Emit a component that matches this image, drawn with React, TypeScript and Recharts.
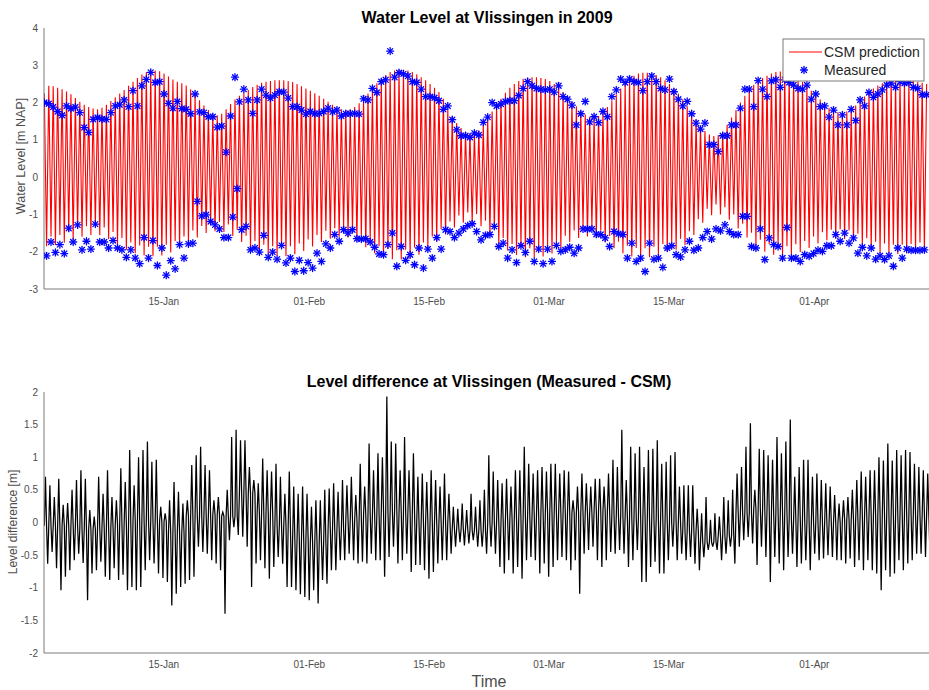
import React from 'react';
import { ComposedChart, Line, Scatter, XAxis, YAxis } from 'recharts';

// ---- time base (days after 01-Jan-2009 00:00) ----
const FIRST_HIGH_WATER_DAY = 0.04;
const TIDE_INTERVAL_DAYS = 0.518;
const X_DOMAIN: [number, number] = [0, 103.4];

// ---- tick labels ----
const dateTicks = [14, 31, 45, 59, 73, 90];
const dateTickLabels = ['15-Jan', '01-Feb', '15-Feb', '01-Mar', '15-Mar', '01-Apr'];
const levelTicks = [-3, -2, -1, 0, 1, 2, 3, 4];
const diffTicks = [-2, -1.5, -1, -0.5, 0, 0.5, 1, 1.5, 2];

// ---- CSM prediction: high and low waters per tide [m NAP] ----
const predHW = [
  2.25, 2.45, 2.44, 2.40, 2.36, 2.30, 2.22, 2.12, 2.02, 1.94,
  1.88, 1.84, 1.82, 1.86, 1.94, 2.04, 2.14, 2.24, 2.34, 2.45,
  2.56, 2.66, 2.75, 2.82, 2.86, 2.86, 2.84, 2.78, 2.70, 2.62,
  2.56, 2.52, 2.46, 2.36, 2.22, 2.06, 1.92, 1.80, 1.70, 1.66,
  1.70, 1.82, 1.96, 2.08, 2.18, 2.26, 2.34, 2.42, 2.48, 2.53,
  2.56, 2.58, 2.60, 2.60, 2.60, 2.58, 2.55, 2.50, 2.44, 2.38,
  2.32, 2.25, 2.18, 2.10, 2.02, 1.94, 1.87, 1.82, 1.80, 1.82,
  1.88, 1.98, 2.10, 2.24, 2.38, 2.52, 2.64, 2.74, 2.82, 2.86,
  2.88, 2.88, 2.86, 2.82, 2.76, 2.68, 2.60, 2.50, 2.40, 2.28,
  2.10, 1.82, 1.62, 1.45, 1.32, 1.22, 1.17, 1.18, 1.26, 1.40,
  1.58, 1.76, 1.94, 2.10, 2.26, 2.40, 2.50, 2.58, 2.64, 2.67,
  2.68, 2.68, 2.66, 2.63, 2.58, 2.50, 2.40, 2.28, 2.15, 2.02,
  1.90, 1.78, 1.68, 1.62, 1.60, 1.64, 1.74, 1.88, 2.04, 2.22,
  2.38, 2.52, 2.64, 2.72, 2.78, 2.80, 2.80, 2.78, 2.74, 2.68,
  2.60, 2.50, 2.38, 2.24, 2.08, 1.90, 1.72, 1.54, 1.38, 1.24,
  1.14, 1.10, 1.12, 1.22, 1.40, 1.60, 1.80, 2.00, 2.18, 2.34,
  2.48, 2.58, 2.66, 2.72, 2.78, 2.82, 2.83, 2.82, 2.78, 2.72,
  2.64, 2.55, 2.44, 2.32, 2.20, 2.08, 1.96, 1.86, 1.79, 1.75,
  1.74, 1.76, 1.82, 1.92, 2.04, 2.16, 2.28, 2.38, 2.46, 2.52,
  2.56, 2.58, 2.60, 2.61, 2.61, 2.60, 2.58, 2.56, 2.53, 2.50,
];

const predLW = [
  -1.85, -1.59, -1.82, -1.55, -1.76, -1.47, -1.68, -1.39, -1.60, -1.32,
  -1.55, -1.30, -1.56, -1.35, -1.66, -1.47, -1.80, -1.63, -1.95, -1.75,
  -2.04, -1.83, -2.10, -1.87, -2.12, -1.87, -2.10, -1.81, -2.02, -1.71,
  -1.90, -1.59, -1.76, -1.43, -1.62, -1.31, -1.50, -1.22, -1.45, -1.20,
  -1.47, -1.27, -1.58, -1.41, -1.74, -1.57, -1.90, -1.71, -2.02, -1.81,
  -2.08, -1.85, -2.11, -1.87, -2.12, -1.85, -2.07, -1.78, -1.98, -1.67,
  -1.86, -1.55, -1.74, -1.44, -1.65, -1.37, -1.60, -1.35, -1.62, -1.41,
  -1.72, -1.55, -1.88, -1.71, -2.04, -1.85, -2.15, -1.93, -2.20, -1.96,
  -2.21, -1.95, -2.18, -1.89, -2.08, -1.75, -1.92, -1.59, -1.74, -1.39,
  -1.54, -1.19, -1.35, -1.03, -1.22, -0.95, -1.20, -0.99, -1.32, -1.17,
  -1.54, -1.41, -1.78, -1.63, -1.97, -1.79, -2.09, -1.88, -2.15, -1.91,
  -2.16, -1.90, -2.13, -1.85, -2.05, -1.73, -1.90, -1.57, -1.74, -1.43,
  -1.63, -1.35, -1.59, -1.35, -1.63, -1.43, -1.75, -1.58, -1.91, -1.73,
  -2.04, -1.84, -2.13, -1.90, -2.16, -1.91, -2.15, -1.87, -2.08, -1.79,
  -2.00, -1.75, -1.95, -1.65, -1.82, -1.45, -1.55, -1.13, -1.22, -0.85,
  -1.02, -0.73, -1.00, -0.81, -1.14, -1.00, -1.38, -1.25, -1.62, -1.49,
  -1.84, -1.68, -2.00, -1.80, -2.08, -1.85, -2.11, -1.85, -2.08, -1.80,
  -2.01, -1.71, -1.90, -1.59, -1.78, -1.48, -1.69, -1.41, -1.65, -1.40,
  -1.66, -1.43, -1.72, -1.52, -1.83, -1.64, -1.94, -1.73, -2.01, -1.78,
  -2.05, -1.81, -2.06, -1.81, -2.05, -1.79, -2.02, -1.75, -1.98,
];

// ---- Measured high and low waters [m NAP] ----
const measHW = [
  2.0, 1.97, 1.88, 1.76, 1.66, 1.91, 1.84, 1.88, 1.73, 1.33,
  1.2, 1.55, 1.6, 1.56, 1.55, 1.73, 1.91, 1.94, 2.07, 1.89,
  2.32, 1.91, 2.45, 2.62, 2.81, 2.54, 2.56, 2.23, 1.98, 1.85,
  2.03, 1.84, 1.82, 1.7, 2.23, 1.75, 1.73, 1.62, 1.62, 1.34,
  1.37, 0.67, 1.64, 2.68, 2.02, 2.36, 2.07, 1.71, 2.07, 2.36,
  2.2, 2.12, 2.2, 2.29, 2.28, 2.12, 1.89, 1.89, 1.8, 1.69,
  1.76, 1.7, 1.71, 1.76, 1.85, 1.75, 1.8, 1.64, 1.7, 1.7,
  1.71, 1.69, 2.1, 2.07, 2.38, 2.27, 2.56, 2.61, 3.38, 2.68,
  2.8, 2.77, 2.71, 2.56, 2.54, 2.36, 2.16, 2.16, 2.13, 2.05,
  1.82, 1.91, 1.54, 1.27, 1.11, 1.11, 1.07, 1.18, 1.13, 1.47,
  1.61, 2.0, 1.91, 1.96, 2.03, 2.05, 2.05, 2.19, 2.38, 2.56,
  2.45, 2.38, 2.36, 2.34, 2.36, 2.28, 2.45, 2.16, 2.09, 1.93,
  1.4, 1.7, 2.03, 1.48, 1.62, 1.46, 1.76, 1.62, 2.16, 2.34,
  2.63, 2.54, 2.63, 2.56, 2.54, 2.32, 2.56, 2.71, 2.56, 2.38,
  2.34, 2.63, 2.29, 2.09, 1.91, 2.03, 1.7, 1.45, 1.29, 1.45,
  0.87, 0.87, 0.69, 1.11, 1.11, 1.4, 1.4, 1.85, 2.36, 2.36,
  1.89, 2.59, 2.36, 2.16, 2.58, 2.61, 2.41, 2.61, 2.54, 2.47,
  2.38, 2.36, 2.47, 2.09, 2.23, 1.89, 1.91, 1.61, 1.8, 1.4,
  1.67, 1.4, 1.82, 1.52, 2.07, 1.91, 2.27, 2.14, 2.23, 2.34,
  2.47, 2.52, 2.41, 2.56, 2.52, 2.54, 2.41, 2.38, 2.21, 2.21,
];

const measLW = [
  -2.11, -1.74, -2.02, -1.81, -2.05, -1.37, -1.74, -1.28, -1.95, -1.72,
  -1.93, -1.26, -1.74, -1.74, -1.9, -1.7, -1.9, -1.95, -2.15, -1.95,
  -2.17, -2.32, -1.62, -2.17, -1.7, -2.37, -1.9, -2.63, -2.24, -2.46,
  -1.81, -2.17, -1.79, -1.77, -0.65, -1.04, -1.01, -1.19, -1.28, -1.39,
  -1.62, -1.62, -1.07, -0.31, -1.41, -1.32, -1.95, -1.9, -2.01, -1.56,
  -2.15, -2.01, -2.2, -1.83, -2.3, -2.17, -2.53, -2.23, -2.51, -2.29,
  -2.44, -2.04, -2.26, -1.79, -1.9, -1.54, -1.72, -1.41, -1.5, -1.41,
  -1.65, -1.66, -1.65, -1.74, -1.88, -2.06, -2.08, -1.81, -1.5, -2.39,
  -1.86, -2.23, -2.08, -2.35, -1.9, -2.44, -1.93, -2.17, -1.62, -1.93,
  -1.41, -1.46, -1.62, -1.5, -1.39, -1.3, -1.25, -1.46, -1.68, -1.56,
  -1.54, -1.32, -1.86, -1.77, -2.17, -1.95, -2.29, -1.84, -2.02, -1.72,
  -2.26, -1.93, -2.32, -1.93, -2.26, -1.83, -1.99, -1.95, -1.88, -2.04,
  -1.9, -1.39, -1.39, -1.39, -1.53, -1.54, -1.63, -1.86, -1.46, -1.52,
  -1.54, -2.17, -1.77, -2.26, -2.17, -2.53, -1.77, -2.2, -2.17, -2.42,
  -1.9, -1.84, -2.08, -2.14, -1.95, -1.72, -1.96, -1.9, -1.62, -1.46,
  -1.66, -1.39, -1.44, -1.28, -1.46, -1.54, -1.54, -1.05, -1.05, -1.86,
  -1.9, -1.39, -2.21, -1.63, -1.81, -1.86, -2.17, -1.35, -2.17, -2.17,
  -2.26, -2.08, -2.12, -2.05, -1.96, -1.99, -1.84, -1.84, -1.54, -1.72,
  -1.5, -1.77, -1.63, -2.04, -1.88, -2.11, -1.9, -2.2, -2.11, -2.21,
  -2.11, -2.39, -1.9, -2.17, -1.93, -1.96, -1.96, -1.96, -1.95,
];

// ---- Level difference (Measured - CSM) [m]: per-tide peaks, troughs, and local level ----
const diffUp = [
  0.7, 0.57, 0.39, 0.67, 0.27, 0.3, 0.5, 0.65, 0.8, 0.67,
  0.19, 0.09, 0.7, 0.44, 0.8, 0.39, 0.34, 0.83, 0.62, 1.11,
  0.57, 1.0, 1.11, 1.24, 0.93, 0.96, 0.24, 0.14, 0.34, 0.62,
  0.47, 0.29, 0.34, 0.88, 1.03, 1.16, 0.88, 0.8, 0.34, 0.39,
  0.16, 0.5, 1.31, 1.42, 1.26, 1.26, 0.85, 0.65, 0.6, 0.98,
  0.8, 0.78, 0.9, 0.7, 0.44, 0.78, 0.55, 0.44, 0.55, 0.44,
  0.24, 0.34,
  0.34, 0.5, 0.52, 0.6, 0.47, 0.65, 0.57, 0.7, 0.42,
  0.9, 0.55, 1.21, 0.8, 1.06, 1.0, 1.93, 1.24, 1.21, 0.8,
  1.31, 0.8, 1.06, 0.7, 0.75, 0.62, 0.8, 0.65, 0.55, 0.75,
  0.44, 0.24, 0.21, 0.29, 0.19, 0.44, 0.24, 0.34, 0.5, 1.03,
  0.78, 0.65, 0.6, 0.67, 0.55, 0.8, 0.8, 1.16, 0.9, 0.75,
  0.8, 0.85, 0.78, 0.9, 0.9, 0.75, 0.8, 0.78, 0.34, 0.55,
  0.75, 0.6, 0.55, 0.67, 0.67, 0.55, 0.75, 0.96, 0.85,
  1.42, 0.65, 1.16, 1.06, 1.16, 0.85, 1.11, 1.13, 1.26, 0.9,
  0.93, 1.03, 1.08, 0.55, 0.57, 0.57, 0.57, 0.21, 0.14, 0.39,
  0.04, 0.14, 0.09, 0.39, 0.34, 0.5, 0.75, 0.85, 1.16, 1.52,
  0.5, 1.13, 1.11, 1.03, 0.96, 1.31, 1.06, 1.24, 1.58, 0.7,
  0.85, 0.96, 0.96, 0.7, 0.75, 0.65, 0.6, 0.55, 0.42, 0.29,
  0.34, 0.39, 0.5, 0.65, 0.78, 0.7, 0.8, 0.8, 1.0, 0.95,
  1.21, 0.95, 1.11, 1.03, 1.11, 1.08, 0.9, 0.85, 0.8, 0.75,
];

const diffDown = [
  -0.63, -0.45, -0.7, -1.04, -0.83, -0.73, -0.58, -0.48, -0.62, -1.19,
  -0.78, -0.73, -0.6, -0.83, -0.88, -0.7, -0.88, -0.8, -1.04, -0.99,
  -1.04, -0.99, -0.73, -0.58, -0.63, -0.78, -0.85, -0.91, -1.27, -1.09,
  -0.99, -0.94, -0.88, -0.83, -0.37, -0.45, -0.48, -0.58, -0.63, -0.73,
  -1.4, -0.27, -0.07, -0.19, -0.22, -0.37, -0.99, -0.63, -0.58, -0.7,
  -0.86, -0.68, -0.53, -0.63, -0.99, -0.99, -1.04, -1.1, -1.14, -1.19,
  -1.04, -1.24,
  -0.88, -0.94, -0.73, -0.73, -0.58, -0.58, -0.48, -0.58, -0.63, -0.6,
  -0.63, -0.48, -0.58, -0.58, -0.83, -0.53, -0.37, -0.63, -0.58, -0.48,
  -0.76, -0.65, -0.65, -0.73, -0.86, -0.76, -0.63, -0.58, -0.58, -0.48,
  -0.37, -0.3, -0.35, -0.32, -0.27, -0.37, -0.37, -0.48, -0.37, -0.48,
  -0.68, -0.78, -0.58, -0.78, -0.68, -0.86, -0.58, -0.53, -0.58, -0.78,
  -0.63, -0.83, -0.68, -0.58, -0.53, -0.58, -0.73, -0.58, -1.09, -0.48,
  -0.42, -0.37, -0.58, -0.68, -0.58, -0.45, -0.48, -0.42,
  -0.48, -0.68, -0.58, -0.42, -0.91, -0.91, -0.68, -0.6, -0.78, -0.78,
  -0.58, -0.37, -0.58, -0.48, -0.58, -0.53, -0.63, -0.73, -0.53, -0.42,
  -0.37, -0.42, -0.58, -0.48, -0.37, -0.63, -0.37, -0.27, -0.22, -0.32,
  -0.65, -0.37, -0.53, -0.91, -0.53, -0.63, -0.73, -0.53, -0.48, -0.68,
  -0.63, -0.58, -0.73, -0.48, -0.58, -0.55, -0.5, -0.53, -0.58, -0.58,
  -0.63, -0.55, -0.68, -0.58, -0.73, -0.58, -0.73, -0.78, -1.04, -0.73,
  -0.83, -0.78, -0.58, -0.73, -0.63, -0.58, -0.48, -0.48, -0.53, -0.48,
];

// local (surge) level of the difference, one value per 4 tides
const diffMid = [
  -0.05, -0.05, -0.1, -0.08, -0.02, 0.03, 0.02, -0.15, 0.1, 0.12,
  0.1, 0.45, 0.15, -0.05, -0.25, -0.3, -0.1, 0.05, 0.12, 0.18,
  0.15, 0.02, 0.0, -0.1, -0.12, 0.0, 0.05, 0.1, 0.15, 0.15,
  0.15, 0.18, 0.1, 0.08, 0.05, 0.0, -0.12, -0.3, -0.2, 0.15,
  0.2, 0.15, 0.05, 0.0, 0.0, 0.05, 0.1, 0.12, 0.12, 0.12,
];

// ---- build series ----
const tideTime = (k: number) => FIRST_HIGH_WATER_DAY + k * TIDE_INTERVAL_DAYS;

type P = { t: number; v: number };
const predData: P[] = [];
predHW.forEach((v, i) => {
  predData.push({ t: tideTime(i), v });
  if (i < predLW.length) predData.push({ t: tideTime(i + 0.5), v: predLW[i] });
});
const measData: P[] = [];
measHW.forEach((v, i) => {
  measData.push({ t: tideTime(i), v });
  if (i < measLW.length) measData.push({ t: tideTime(i + 0.5), v: measLW[i] });
});
const diffData: P[] = [];
diffUp.forEach((up, i) => {
  const mid = diffMid[Math.floor(i / 4)];
  diffData.push({ t: tideTime(i), v: mid });
  diffData.push({ t: tideTime(i + 0.25), v: up });
  diffData.push({ t: tideTime(i + 0.5), v: mid });
  diffData.push({ t: tideTime(i + 0.75), v: diffDown[i] });
});

const fmtDate = (d: number) => {
  const k = dateTicks.indexOf(d);
  return k >= 0 ? dateTickLabels[k] : '';
};

const FONT = '"Liberation Sans", Arial, Helvetica, sans-serif';
const AX = '#7a7a7a';
const TXT = '#4d4d4d';
const TICK_LEN = 5;

const Asterisk = (props: any) => {
  const { cx, cy } = props;
  if (cx == null || cy == null) return null;
  const r = 3.5;
  const d = r * 0.72;
  return (
    <g stroke="#0000ff" strokeWidth={1.3} strokeLinecap="round">
      <line x1={cx - r} y1={cy} x2={cx + r} y2={cy} />
      <line x1={cx} y1={cy - r} x2={cx} y2={cy + r} />
      <line x1={cx - d} y1={cy - d} x2={cx + d} y2={cy + d} />
      <line x1={cx - d} y1={cy + d} x2={cx + d} y2={cy - d} />
    </g>
  );
};

function frameAxes(yDomain: [number, number], yTicks: number[], xAxisHeight: number, xTickMargin: number) {
  return [
    <XAxis key="x" xAxisId="x" dataKey="t" type="number" domain={X_DOMAIN} allowDataOverflow
      ticks={dateTicks} interval={0} tickFormatter={fmtDate} height={xAxisHeight}
      tickLine={false} tickSize={0} tickMargin={xTickMargin}
      axisLine={{ stroke: AX }} tick={{ fontSize: 10, fill: TXT, fontFamily: FONT }} />,
    <XAxis key="xb" xAxisId="xb" type="number" domain={X_DOMAIN} allowDataOverflow
      ticks={dateTicks} interval={0} orientation="bottom" mirror height={0}
      tick={false} tickLine={{ stroke: AX }} tickSize={TICK_LEN} axisLine={false} />,
    <XAxis key="xt" xAxisId="xt" type="number" domain={X_DOMAIN} allowDataOverflow
      ticks={dateTicks} interval={0} orientation="top" mirror height={0}
      tick={false} tickLine={{ stroke: AX }} tickSize={TICK_LEN} axisLine={{ stroke: AX }} />,
    <YAxis key="y" yAxisId="y" dataKey="v" type="number" domain={yDomain} allowDataOverflow
      ticks={yTicks} interval={0} width={44} tickLine={false} tickSize={0} tickMargin={6}
      axisLine={{ stroke: AX }} tick={{ fontSize: 10, fill: TXT, fontFamily: FONT }} />,
    <YAxis key="yl" yAxisId="yl" type="number" domain={yDomain} allowDataOverflow
      ticks={yTicks} interval={0} mirror width={0}
      tick={false} tickLine={{ stroke: AX }} tickSize={TICK_LEN} axisLine={false} />,
    <YAxis key="yr" yAxisId="yr" type="number" domain={yDomain} allowDataOverflow
      ticks={yTicks} interval={0} orientation="right" mirror width={0}
      tick={false} tickLine={{ stroke: AX }} tickSize={TICK_LEN} axisLine={{ stroke: AX }} />,
  ];
}

export default function App() {
  return (
    <div style={{ position: 'absolute', left: 0, top: 0, width: 929, height: 690, background: '#fff', overflow: 'hidden' }}>
      <div style={{ position: 'absolute', left: 0, top: 0 }}>
        <ComposedChart width={929} height={320} margin={{ top: 28, right: 0, bottom: 0, left: 0 }}>
          {frameAxes([-3, 4], levelTicks, 31, 9)}
          <Line xAxisId="x" yAxisId="y" data={predData} dataKey="v" type="linear"
            stroke="#ff0000" strokeWidth={1.1} dot={false} activeDot={false} isAnimationActive={false} />
          <Scatter xAxisId="x" yAxisId="y" data={measData} dataKey="v" fill="#0000ff"
            shape={Asterisk} isAnimationActive={false} />
        </ComposedChart>
      </div>
      <div style={{ position: 'absolute', left: 0, top: 360 }}>
        <ComposedChart width={929} height={330} margin={{ top: 32, right: 0, bottom: 0, left: 0 }}>
          {frameAxes([-2, 2], diffTicks, 37, 8)}
          <Line xAxisId="x" yAxisId="y" data={diffData} dataKey="v" type="linear"
            stroke="#000000" strokeWidth={1.25} dot={false} activeDot={false} isAnimationActive={false} />
        </ComposedChart>
      </div>
      <svg width={929} height={690} style={{ position: 'absolute', left: 0, top: 0, pointerEvents: 'none' }}
        fontFamily={FONT}>
        <text x={487} y={22.5} textAnchor="middle" fontSize={16} fontWeight="bold" fill="#000">
          Water Level at Vlissingen in 2009
        </text>
        <text x={489} y={386.5} textAnchor="middle" fontSize={16} fontWeight="bold" fill="#000">
          Level difference at Vlissingen (Measured - CSM)
        </text>
        <text x={489} y={687} textAnchor="middle" fontSize={16} fill={TXT}>Time</text>
        <text transform="translate(25,156) rotate(-90)" textAnchor="middle" fontSize={12.5} fill={TXT}>
          Water Level [m NAP]
        </text>
        <text transform="translate(17,522) rotate(-90)" textAnchor="middle" fontSize={12} fill={TXT}>
          Level difference [m]
        </text>
        <g transform="translate(783,39)">
          <rect x={0} y={0} width={141} height={42} fill="#fff" stroke={AX} strokeWidth={1} />
          <line x1={6} y1={13} x2={39} y2={13} stroke="#ff0000" strokeWidth={1} />
          <text x={41} y={18} fontSize={14} fill="#262626">CSM prediction</text>
          <Asterisk cx={21} cy={31} />
          <text x={41} y={36} fontSize={14} fill="#262626">Measured</text>
        </g>
      </svg>
    </div>
  );
}
